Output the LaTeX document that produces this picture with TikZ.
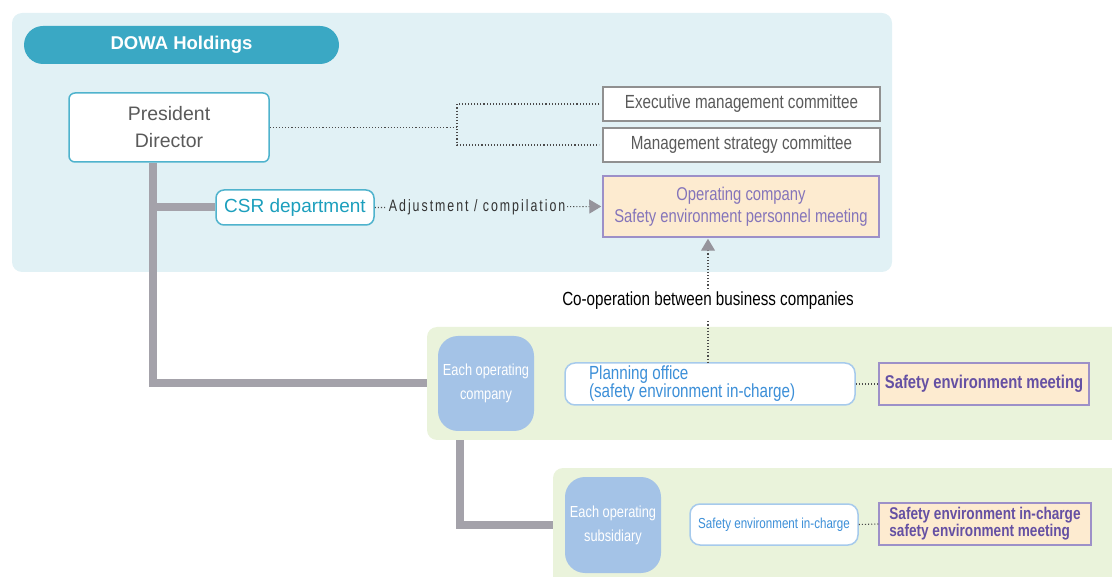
\documentclass[tikz,border=0pt]{standalone}
\usepackage{fontspec}
\setmainfont{Liberation Sans}
\newfontfamily\cond[FakeStretch=0.8]{Liberation Sans}
\newfontfamily\condsp[FakeStretch=0.75,LetterSpace=12]{Liberation Sans}
\usetikzlibrary{arrows.meta}
\definecolor{bgblue}{HTML}{E1F1F5}
\definecolor{pillblue}{HTML}{3AA8C4}
\definecolor{tealline}{HTML}{4FB3CD}
\definecolor{csrteal}{HTML}{1C9FBD}
\definecolor{txtgray}{HTML}{5A5A5A}
\definecolor{boxgray}{HTML}{909090}
\definecolor{orfill}{HTML}{FDEBD0}
\definecolor{purpline}{HTML}{9D90C8}
\definecolor{purptext}{HTML}{8474BA}
\definecolor{purpdark}{HTML}{6550A3}
\definecolor{greenbg}{HTML}{EAF3DB}
\definecolor{nodeblue}{HTML}{A4C3E7}
\definecolor{lbline}{HTML}{A6CAEC}
\definecolor{lbtext}{HTML}{3C8FD8}
\definecolor{trunkgray}{HTML}{A4A2AA}
\definecolor{arrgray}{HTML}{96949C}
\definecolor{dotcol}{HTML}{4A4A4A}
\definecolor{adjtext}{HTML}{333333}
\pgfdeclarelayer{bglayer}
\pgfdeclarelayer{midlayer}
\pgfsetlayers{bglayer,midlayer,main}
\begin{document}
\begin{tikzpicture}[x=1pt,y=-1pt,
  pill/.style={fill=pillblue, rounded corners=19pt, minimum width=315pt, minimum height=38pt, text=white, inner sep=0pt, font=\bfseries\fontsize{18.5}{20}\selectfont},
  tealbox/.style={draw=tealline, line width=1.5pt, fill=white, rounded corners=6pt, align=center, inner sep=0pt},
  graybox/.style={draw=boxgray, line width=1.5pt, fill=white, minimum width=277pt, minimum height=34pt, inner sep=0pt, text=txtgray, font=\cond\fontsize{19}{22}\selectfont},
  orbox/.style={draw=purpline, line width=1.5pt, fill=orfill, text=purptext, align=center, inner sep=0pt},
  bluenode/.style={fill=nodeblue, rounded corners=20pt, text=white, align=center, inner sep=0pt, font=\cond\fontsize{16}{24}\selectfont},
  lbbox/.style={draw=lbline, line width=1.5pt, fill=white, rounded corners=10pt, text=lbtext, inner sep=0pt},
  dotline/.style={draw=dotcol, line width=1.1pt, dotted},
  trunk/.style={draw=trunkgray, line width=8pt, line join=miter},
  tip/.style={-{Triangle[length=12pt,width=14pt,color=arrgray]}}
]
\useasboundingbox (0,0) rectangle (1112,577);

\node[pill] (dowa) at (181.5,45) {DOWA Holdings};
\node[tealbox, minimum width=200pt, minimum height=69pt, text=txtgray, font=\fontsize{19.5}{27}\selectfont] (pres) at (169,127.5) {President\\Director};
\node[graybox] (exec) at (741.5,104) {Executive management committee};
\node[graybox] (mgmt) at (741.5,145) {Management strategy committee};
\node[tealbox, minimum width=158pt, minimum height=35pt, rounded corners=8pt, text=csrteal, font=\fontsize{19}{22}\selectfont] (csr) at (295,207.5) {CSR department};
\node[orbox, minimum width=276pt, minimum height=61pt, font=\cond\fontsize{18.5}{22}\selectfont] (opc) at (741,206.5) {Operating company\\Safety environment personnel meeting};
\node[font=\cond\fontsize{19}{22}\selectfont, text=black] (coop) at (708,301) {Co-operation between business companies};

\node[bluenode, minimum width=96pt, minimum height=95pt] (eoc) at (486,383.5) {Each operating\\company};
\node[lbbox, minimum width=290pt, minimum height=42pt, text width=242pt, align=flush left, font=\cond\fontsize{19}{18}\selectfont] (plan) at (710,384) {Planning office\\(safety environment in-charge)};
\node[orbox, minimum width=210pt, minimum height=42pt, text=purpdark, font=\cond\bfseries\fontsize{18.5}{20}\selectfont] (sem) at (984,384) {Safety environment meeting};

\node[bluenode, minimum width=96pt, minimum height=96pt] (eos) at (613,525) {Each operating\\subsidiary};
\node[lbbox, minimum width=168pt, minimum height=41pt, font=\cond\fontsize{14.5}{17}\selectfont] (sic) at (774,524.5) {Safety environment in-charge};
\node[orbox, minimum width=212pt, minimum height=42pt, align=left, text=purpdark, font=\cond\bfseries\fontsize{17}{17}\selectfont] (sem2) at (985,524) {Safety environment in-charge\\safety environment meeting};

\coordinate (trk) at ([xshift=-16pt]pres.south);
\coordinate (trk2) at ([xshift=-26pt]eoc.south);
\coordinate (jn) at (457,125);

\begin{pgfonlayer}{bglayer}
  \fill[bgblue, rounded corners=10pt] (12,13) rectangle (892,272);
  \draw[trunk] (trk) |- (eoc.west);
  \draw[trunk] (trk |- csr.west) -- (csr.west);
  \draw[trunk] (trk2) |- (eos.west);
\end{pgfonlayer}
\begin{pgfonlayer}{midlayer}
  \fill[greenbg, rounded corners=10pt] (427,327) rectangle (1130,440);
  \fill[greenbg, rounded corners=10pt] (553,468) rectangle (1130,600);
\end{pgfonlayer}

\draw[dotline] (pres.east) -- (pres.east -| jn);
\draw[dotline, shorten <=3pt, shorten >=3pt] (exec.west) -| (jn) |- (mgmt.west);
\draw[dotline, tip, shorten >=1pt] (csr.east) -- node[pos=0.45, fill=bgblue, inner sep=2pt, text=adjtext, font=\condsp\fontsize{16.5}{18}\selectfont] (adj) {Adjustment / compilation} (opc.west);
\draw[dotline, tip, shorten >=1pt] (coop.north) -- (coop.north |- opc.south);
\draw[dotline, shorten <=8pt] (coop.south) -- (coop.south |- plan.north);
\draw[dotline] (plan.east) -- (sem.west);
\draw[dotline] (sic.east) -- (sem2.west);
\end{tikzpicture}
\end{document}
